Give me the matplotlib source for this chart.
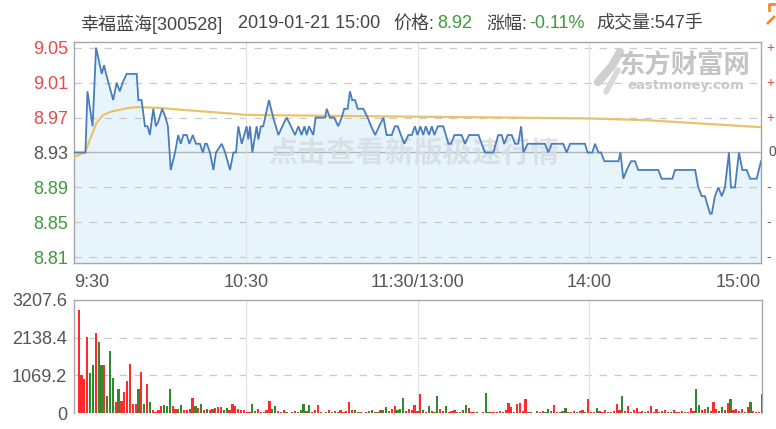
import matplotlib
matplotlib.use("Agg")
import matplotlib.pyplot as plt
from matplotlib.transforms import blended_transform_factory
from matplotlib.lines import Line2D

# ---------------- data ----------------
stock_name = "幸福蓝海[300528]"
stamp = "2019-01-21 15:00"
price_label = "价格:"
last_price = "8.92"
change_label = "涨幅:"
change_pct = "-0.11%"
volume_label = "成交量:547手"
prev_close = 8.93

price_ticks = [9.05, 9.01, 8.97, 8.93, 8.89, 8.85, 8.81]
edge_marks = ["+", "+", "+", "0", "-", "-", "-"]
vol_ticks = [0, 1069.2, 2138.4, 3207.6]
vol_tick_labels = ["0", "1069.2", "2138.4", "3207.6"]
time_ticks = [0, 60, 120, 180, 240]
time_labels = ["9:30", "10:30", "11:30/13:00", "14:00", "15:00"]

price_min = [0, 4, 4.7, 6.5, 7.7, 9.7, 10.5, 11.2, 13.7, 14.9, 16, 17, 18.4, 21.9, 22.5,
             23.6, 24.8, 25.7, 26.5, 27.7, 28.6, 29.4, 30.8, 32, 32.8, 33.8, 35.3, 36.4,
             37.3, 38.2, 39.4, 40.3, 41.5, 42.6, 44, 45, 45.8, 46.4, 47.5, 48.7, 49.6,
             51.6, 52.8, 54.5, 55.7, 56.6, 57.4, 58.6, 60.3, 60.9, 61.5, 62.3, 63.8, 64.4,
             65.3, 66.1, 68.1, 69.6, 71.4, 72.8, 74.3, 75.8, 77.2, 78.4, 79.5, 80.5, 81.3,
             82.1, 83.6, 84.4, 87.7, 88.3, 89.4, 90.9, 92.3, 93.5, 94.4, 95.6, 96.4, 97.2,
             98.2, 99.1, 101.1, 102.6, 103.8, 105.2, 106.6, 108.1, 109.2, 111, 112.1, 113.1,
             114.2, 115.4, 116.8, 118, 119.1, 120, 121, 122, 122.9, 124, 125, 125.9, 127.1,
             129, 130.8, 131.7, 132.9, 135.4, 136.6, 138, 141.3, 142.4, 143.6, 146.5, 148.2,
             149.4, 150.3, 151.5, 152.9, 154.1, 155.2, 156.2, 157, 158.5, 164.5, 165.7,
             166.9, 170.9, 172.1, 173.3, 178.5, 179.4, 181.1, 182, 183.2, 184.1, 185.3,
             190.2, 190.9, 191.9, 193.1, 194.6, 196, 197.1, 204.1, 205.3, 209, 210, 217,
             218.1, 219.3, 220.4, 222.2, 222.8, 223.9, 225.1, 226.3, 227.4, 228.8, 229.5,
             230.9, 232.3, 233.5, 235, 236.2, 238.5, 240]
price_val = [8.93, 8.93, 9.00, 8.96, 9.05, 9.02, 9.03, 9.02, 8.99, 9.01, 9.00, 9.01, 9.02, 9.02, 8.99,
             8.99, 8.96, 8.96, 8.95, 8.98, 8.96, 8.965, 8.98, 8.97, 8.96, 8.91, 8.93, 8.95,
             8.94, 8.95, 8.95, 8.94, 8.95, 8.94, 8.94, 8.93, 8.94, 8.94, 8.93, 8.91, 8.93,
             8.94, 8.93, 8.91, 8.93, 8.93, 8.96, 8.94, 8.96, 8.945, 8.96, 8.93, 8.96, 8.945,
             8.96, 8.96, 8.99, 8.97, 8.95, 8.96, 8.97, 8.96, 8.95, 8.96, 8.95, 8.96, 8.95,
             8.96, 8.95, 8.97, 8.97, 8.98, 8.97, 8.97, 8.96, 8.97, 8.98, 8.98, 9.00, 8.99,
             8.99, 8.98, 8.98, 8.97, 8.96, 8.95, 8.96, 8.97, 8.95, 8.95, 8.96, 8.96,
             8.95, 8.94, 8.95, 8.95, 8.96, 8.95, 8.96, 8.95, 8.96, 8.95, 8.96, 8.95, 8.96,
             8.96, 8.94, 8.94, 8.95, 8.95, 8.94, 8.95, 8.95, 8.94, 8.93, 8.93, 8.95,
             8.95, 8.94, 8.95, 8.95, 8.94, 8.94, 8.96, 8.93, 8.94, 8.94, 8.93,
             8.94, 8.94, 8.93, 8.94, 8.94, 8.93, 8.93, 8.94, 8.93, 8.93, 8.92,
             8.92, 8.93, 8.90, 8.91, 8.92, 8.92, 8.91, 8.91, 8.90, 8.90, 8.91, 8.91,
             8.89, 8.88, 8.88, 8.86, 8.86, 8.88, 8.89, 8.88, 8.89, 8.93, 8.89,
             8.89, 8.93, 8.91, 8.91, 8.90, 8.90, 8.92]

avg_min = [0, 0.9, 3.8, 5.6, 7.9, 10.2, 13.2, 19, 21.9, 30, 37, 45.2, 53.3, 60.3, 90,
           120, 150, 180, 200, 215, 240]
avg_val = [8.925, 8.926, 8.930, 8.945, 8.964, 8.973, 8.977, 8.981, 8.982, 8.981, 8.979,
           8.977, 8.975, 8.973, 8.972, 8.971, 8.970, 8.969, 8.967, 8.964, 8.959]

volume = [2923, 1091, 977, 2164, 1139, 1357, 2278, 2021, 1357, 1357,
          475, 1765, 996, 313, 674, 342, 598, 902, 1405, 266,
          247, 693, 1167, 266, 835, 313, 76, 30, 76, 190,
          218, 190, 693, 190, 123, 123, 218, 76, 76, 123,
          437, 190, 142, 247, 76, 123, 76, 123, 152, 171,
          171, 76, 142, 76, 247, 190, 123, 95, 76, 30,
          30,
          247, 57, 123, 40, 30, 95, 342, 123, 190, 57,
          30, 76, 40, 0, 30, 57, 40, 95, 247, 57,
          218, 30, 76, 218, 20, 0, 40, 76, 30, 57,
          40, 76, 20, 57, 313, 95, 95, 40, 20, 0,
          30, 57, 76, 30, 40, 76, 95, 171, 57, 123,
          190, 95, 123, 427, 57, 123, 95, 218, 57, 531,
          76, 30, 190, 57, 40, 475, 123, 57, 190, 40,
          57, 76, 30, 20, 95, 218, 142, 40, 30, 20,
          0, 40, 569, 30, 20, 40, 30, 57, 20, 76,
          285, 171, 40, 266, 285, 57, 408, 30, 20, 0,
          48, 30, 57, 40, 123, 57, 218, 40, 20, 57,
          152, 40, 30, 48, 20, 57, 76, 30, 408, 40,
          20, 152, 57, 30, 95, 40, 20, 57, 247, 95,
          484, 57, 190, 40, 76, 152, 30, 48, 20, 57,
          199, 40, 123, 20, 57, 76, 30, 40, 76, 30,
          20, 57, 30, 40, 142, 57, 693, 218, 76, 123,
          171, 57, 313, 123, 57, 171, 95, 285, 408, 76,
          123, 57, 123, 40, 171, 313, 57, 30, 20, 550]
vol_dir = ("rrrrggrggr" "gggrgrrrrr" "rgrgrgrrrr" "gggrrggrrr" "rgrgrgrgrr" "rggrrrrrrr" "r"
           "ggrrgrrggr" "rrgrrgrggr" "grrrrrgrgr" "grrrrrggrr" "rggrgrggrr" "rgggrrrrrr"
           "grgrggrrgr" "rrgrggrrrg" "rrggrrrrgr" "rrgrrrrgrr" "grrggrrrgr" "grrrgrrgrr"
           "rgrrrgrrrr" "grrgrrrrgr" "rrrgrrrgrr" "rrgrrrggrr" "grrrggrrgr" "rrrgrgrrrr")

# ---------------- style ----------------
RED = "#e8494b"
GREEN = "#3d9a3d"
GRAY_TXT = "#555555"
HEAD = "#444444"
BAR_RED = "#ff2b2b"
BAR_GREEN = "#2f8a2f"
LINE_BLUE = "#4a7dbb"
AVG_YEL = "#e7c46c"
FILL = "#e8f4fc"
SPINE = "#a8a8a8"
GRID = "#c9c9c9"
VGRID = "#e2e2e2"
FONT = ["Liberation Sans", "Noto Sans CJK SC", "DejaVu Sans"]
CJK = ["Noto Sans CJK SC", "DejaVu Sans"]
plt.rcParams["font.family"] = FONT

W, H = 776, 429
fig = plt.figure(figsize=(W / 100, H / 100), dpi=100)

def fx(px):
    return px / W

def fy(py):
    return 1 - py / H

ylo, yhi = 8.8035, 9.0565
ax = fig.add_axes([fx(74), fy(263), fx(761) - fx(74), fy(42) - fy(263)])
axv = fig.add_axes([fx(74), fy(413), fx(762) - fx(74), fy(300) - fy(413)])

# ---------------- price panel ----------------
ax.set_xlim(0, 240)
ax.set_ylim(ylo, yhi)
ax.fill_between(price_min, price_val, ylo, color=FILL, lw=0, zorder=1)
for t in price_ticks:
    if abs(t - prev_close) < 1e-9:
        ax.axhline(t, color="#b4b4b4", lw=1.0, zorder=2)
    else:
        ax.axhline(t, color=GRID, lw=0.9, dashes=(6, 6), zorder=2)
for t in time_ticks[1:-1]:
    ax.axvline(t, color=VGRID, lw=0.9, zorder=2)

ax.text(0.495, (prev_close - ylo) / (yhi - ylo), "点击查看新版极速行情", transform=ax.transAxes,
        ha="center", va="center", fontsize=21, fontweight="bold", color="#d6dde4",
        alpha=0.85, family=CJK, zorder=2.5)

ax.plot(price_min, price_val, color=LINE_BLUE, lw=1.3, zorder=4, solid_joinstyle="miter")
ax.plot(avg_min, avg_val, color=AVG_YEL, lw=1.6, zorder=3)

ax.set_yticks(price_ticks)
ax.set_yticklabels([f"{t:.2f}" for t in price_ticks])
for lab, t in zip(ax.get_yticklabels(), price_ticks):
    lab.set_color(RED if t > prev_close + 1e-9 else (GREEN if t < prev_close - 1e-9 else GRAY_TXT))
ax.set_xticks(time_ticks)
ax.set_xticklabels(time_labels)
xl = ax.get_xticklabels()
xl[0].set_ha("left")
xl[-1].set_ha("right")
for lab in xl:
    lab.set_color(GRAY_TXT)
ax.tick_params(axis="both", length=0, labelsize=13)
ax.tick_params(axis="y", pad=4)
ax.tick_params(axis="x", pad=8)
for s in ax.spines.values():
    s.set_color(SPINE)
    s.set_linewidth(1.0)

# right-edge marks of the (cut-off) percentage scale
for t, lab in zip(price_ticks, edge_marks):
    col = RED if lab == "+" else (GRAY_TXT if lab == "0" else "#666666")
    xo = 1.0085 if lab != "0" else 1.011
    ax.text(xo, t, lab, transform=blended_transform_factory(ax.transAxes, ax.transData),
            ha="left", va="center", fontsize=10, color=col, clip_on=False)

# ---------------- volume panel ----------------
axv.set_xlim(-1.65, 240.05)
axv.set_ylim(0, vol_ticks[-1])
for t in vol_ticks[1:-1]:
    axv.axhline(t, color=GRID, lw=0.9, dashes=(6, 6), zorder=1)
btr = blended_transform_factory(ax.transData, axv.transAxes)
for t in time_ticks[1:-1]:
    axv.plot([t, t], [0, 1], transform=btr, color=VGRID, lw=0.9, zorder=1)
bar_colors = [BAR_RED if d == "r" else BAR_GREEN for d in vol_dir]
axv.bar(range(len(volume)), volume, width=0.78, color=bar_colors, lw=0, zorder=3)
axv.set_yticks(vol_ticks)
axv.set_yticklabels(vol_tick_labels)
axv.set_xticks([])
axv.tick_params(axis="y", length=0, labelsize=13, labelcolor=GRAY_TXT, pad=5)
for s in axv.spines.values():
    s.set_color(SPINE)
    s.set_linewidth(1.0)
axv.spines["bottom"].set_visible(False)

# ---------------- header (segments at reference positions, never overlapping) ----------------
segments = [(stock_name, HEAD, 80), (stamp, HEAD, 238), (price_label, HEAD, 393),
            (last_price, GREEN, 437), (change_label, HEAD, 486), (change_pct, GREEN, 517),
            (volume_label, HEAD, 596)]
fig.canvas.draw()
renderer = fig.canvas.get_renderer()
end_px = 0
ty = fy(24)
for txt, col, x_ref in segments:
    x_px = max(x_ref, end_px + 2)
    t = fig.text(fx(x_px), ty, txt, fontsize=13, color=col, va="center", family=FONT)
    bb = t.get_window_extent(renderer=renderer)
    end_px = x_px + bb.width

# watermark logo
fig.text(fx(684), fy(65), "东方财富网", fontsize=19, fontweight="bold", color="#c4c4c4",
         ha="center", va="center", family=CJK)
fig.text(fx(686), fy(86), "eastmoney.com", fontsize=9.5, fontweight="bold", color="#c8c8c8",
         ha="center", va="center", family=["DejaVu Sans"])
fig.add_artist(Line2D([fx(598), fx(612), fx(620)], [fy(82), fy(66), fy(52)],
                      color="#cfcfcf", lw=6, solid_capstyle="round"))
fig.add_artist(Line2D([fx(606), fx(618)], [fy(92), fy(70)], color="#d8d8d8", lw=4,
                      solid_capstyle="round"))

# top-right corner marks
fig.add_artist(Line2D([fx(769), fx(769), fx(774)], [fy(10), fy(4), fy(4)], color="#f08a2c", lw=2))
fig.add_artist(Line2D([fx(768), fx(774)], [fy(23), fy(17)], color="#f08a2c", lw=2))

fig.savefig("out.png", dpi=100)
